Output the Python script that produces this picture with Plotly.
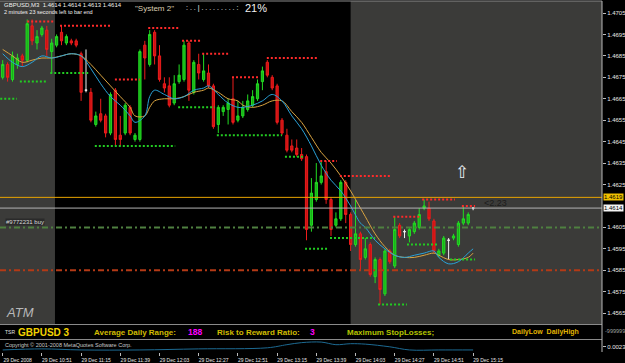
import plotly.graph_objects as go

# ---------------- data ----------------
opens = [
    1.4675, 1.4681, 1.4674, 1.4681, 1.4685, 1.4683, 1.4699, 1.4691, 1.4695, 1.4697,
    1.4687, 1.4690, 1.4696, 1.4691, 1.4692, 1.4692, 1.4686, 1.4669, 1.4668, 1.4653,
    1.4658, 1.4657, 1.4649, 1.4669, 1.4648, 1.4649, 1.4661, 1.4646, 1.4646, 1.4690,
    1.4681, 1.4696, 1.4685, 1.4672, 1.4671, 1.4663, 1.4673, 1.4674, 1.4691, 1.4668,
    1.4681, 1.4674, 1.4677, 1.4671, 1.4653, 1.4659, 1.4660, 1.4665, 1.4655, 1.4657,
    1.4660, 1.4662, 1.4665, 1.4673, 1.4682, 1.4675, 1.4671, 1.4655, 1.4648, 1.4643,
    1.4642, 1.4639, 1.4638, 1.4606, 1.4618, 1.4626, 1.4631, 1.4618, 1.4606, 1.4609,
    1.4626, 1.4611, 1.4597, 1.4602, 1.4591, 1.4597, 1.4582, 1.4590, 1.4574, 1.4594,
    1.4587, 1.4606, 1.4603, 1.4601, 1.4603, 1.4605, 1.4614, 1.4614, 1.4608, 1.4592,
    1.4593, 1.4599, 1.4600, 1.4597, 1.4607, 1.4607, 1.4614]
highs = [
    1.4683, 1.4682, 1.4687, 1.4686, 1.4686, 1.4702, 1.4702, 1.4697, 1.4699, 1.4699,
    1.4693, 1.4695, 1.4699, 1.4695, 1.4693, 1.4693, 1.4687, 1.4688, 1.4670, 1.4659,
    1.4665, 1.4658, 1.4668, 1.4670, 1.4657, 1.4663, 1.4662, 1.4649, 1.4688, 1.4692,
    1.4697, 1.4697, 1.4690, 1.4675, 1.4675, 1.4676, 1.4681, 1.4692, 1.4692, 1.4683,
    1.4686, 1.4686, 1.4681, 1.4672, 1.4662, 1.4662, 1.4665, 1.4675, 1.4664, 1.4664,
    1.4667, 1.4669, 1.4674, 1.4680, 1.4683, 1.4676, 1.4672, 1.4656, 1.4651, 1.4646,
    1.4646, 1.4642, 1.4639, 1.4628, 1.4635, 1.4636, 1.4636, 1.4619, 1.4612, 1.4627,
    1.4627, 1.4612, 1.4618, 1.4603, 1.4600, 1.4598, 1.4591, 1.4591, 1.4595, 1.4595,
    1.4610, 1.4607, 1.4604, 1.4605, 1.4608, 1.4614, 1.4618, 1.4617, 1.4609, 1.4595,
    1.4601, 1.4600, 1.4602, 1.4608, 1.4615, 1.4612, 1.4614]
lows = [
    1.4674, 1.4673, 1.4673, 1.4679, 1.4680, 1.4682, 1.4690, 1.4688, 1.4694, 1.4685,
    1.4677, 1.4689, 1.4690, 1.4690, 1.4690, 1.4689, 1.4664, 1.4668, 1.4654, 1.4652,
    1.4654, 1.4647, 1.4648, 1.4643, 1.4643, 1.4648, 1.4648, 1.4645, 1.4645, 1.4674,
    1.4680, 1.4681, 1.4673, 1.4668, 1.4661, 1.4662, 1.4672, 1.4673, 1.4664, 1.4667,
    1.4674, 1.4673, 1.4670, 1.4651, 1.4649, 1.4657, 1.4653, 1.4653, 1.4654, 1.4656,
    1.4659, 1.4661, 1.4664, 1.4669, 1.4675, 1.4669, 1.4653, 1.4648, 1.4640, 1.4640,
    1.4638, 1.4636, 1.4599, 1.4603, 1.4617, 1.4625, 1.4616, 1.4601, 1.4605, 1.4608,
    1.4607, 1.4594, 1.4596, 1.4585, 1.4590, 1.4582, 1.4579, 1.4569, 1.4573, 1.4588,
    1.4586, 1.4600, 1.4600, 1.4598, 1.4602, 1.4604, 1.4613, 1.4608, 1.4593, 1.4591,
    1.4592, 1.4590, 1.4599, 1.4596, 1.4606, 1.4606, 1.4613]
closes = [
    1.4681, 1.4675, 1.4685, 1.4684, 1.4683, 1.4700, 1.4692, 1.4694, 1.4698, 1.4688,
    1.4691, 1.4694, 1.4692, 1.4694, 1.4691, 1.4690, 1.4668, 1.4669, 1.4655, 1.4657,
    1.4655, 1.4649, 1.4667, 1.4646, 1.4646, 1.4662, 1.4649, 1.4648, 1.4687, 1.4684,
    1.4695, 1.4685, 1.4674, 1.4670, 1.4662, 1.4672, 1.4676, 1.4690, 1.4669, 1.4682,
    1.4677, 1.4678, 1.4671, 1.4652, 1.4661, 1.4661, 1.4663, 1.4654, 1.4657, 1.4661,
    1.4664, 1.4666, 1.4672, 1.4678, 1.4676, 1.4670, 1.4654, 1.4649, 1.4641, 1.4641,
    1.4639, 1.4637, 1.4604, 1.4621, 1.4626, 1.4629, 1.4618, 1.4604, 1.4609, 1.4626,
    1.4611, 1.4597, 1.4602, 1.4590, 1.4595, 1.4583, 1.4590, 1.4576, 1.4594, 1.4589,
    1.4604, 1.4601, 1.4603, 1.4604, 1.4607, 1.4611, 1.4615, 1.4609, 1.4594, 1.4594,
    1.4600, 1.4599, 1.4601, 1.4607, 1.4609, 1.4611, 1.4614]

# time axis labels (every 8 bars of 3 minutes)
tick_bars = [0, 8, 16, 24, 32, 40, 48, 56, 64, 72, 80, 88, 96]
tick_labels = ["29 Dec 2008", "29 Dec 10:51", "29 Dec 11:15", "29 Dec 11:39",
               "29 Dec 12:03", "29 Dec 12:27", "29 Dec 12:51", "29 Dec 13:15",
               "29 Dec 13:39", "29 Dec 14:03", "29 Dec 14:27", "29 Dec 14:51",
               "29 Dec 15:15"]

# price scale labels (1.4615 is hidden behind the price tags)
price_ticks = [1.4565, 1.4575, 1.4585, 1.4595, 1.4605, 1.4625, 1.4635,
               1.4645, 1.4655, 1.4665, 1.4675, 1.4685, 1.4695, 1.4705]

# moving averages (read at sample bars)
ma_bars = [0, 2, 4, 6, 8, 10, 12, 14, 16, 18, 20, 22, 24, 26, 27, 29, 30, 31, 33, 35,
           37, 39, 41, 42, 44, 46, 48, 49, 51, 53, 55, 57, 59, 61, 63, 65, 67, 69, 71, 73,
           74, 76, 78, 80, 82, 84, 86, 88, 89, 91, 93, 95, 96]
ma_slow = [1.4688, 1.4685, 1.4682, 1.4683, 1.4684, 1.4684, 1.4685, 1.4686, 1.4685, 1.4681,
           1.4676, 1.4671, 1.4666, 1.4661, 1.4657, 1.4657, 1.4661, 1.4664, 1.4665, 1.4665,
           1.4666, 1.4668, 1.4669, 1.4670, 1.4668, 1.4665, 1.4664, 1.4662, 1.4661, 1.4662,
           1.4664, 1.4664, 1.4659, 1.4654, 1.4647, 1.4640, 1.4635, 1.4629, 1.4622, 1.4614,
           1.4610, 1.4602, 1.4596, 1.4592, 1.4591, 1.4591, 1.4592, 1.4593, 1.4592, 1.4590,
           1.4590, 1.4591, 1.4593]
ma_fast = [1.4686, 1.4682, 1.4680, 1.4682, 1.4685, 1.4684, 1.4685, 1.4686, 1.4685, 1.4679,
           1.4672, 1.4666, 1.4662, 1.4657, 1.4654, 1.4657, 1.4666, 1.4669, 1.4667, 1.4665,
           1.4666, 1.4669, 1.4670, 1.4671, 1.4667, 1.4663, 1.4661, 1.4661, 1.4662, 1.4664,
           1.4667, 1.4664, 1.4657, 1.4651, 1.4643, 1.4634, 1.4627, 1.4622, 1.4615, 1.4607,
           1.4605, 1.4599, 1.4595, 1.4592, 1.4591, 1.4592, 1.4593, 1.4594, 1.4591, 1.4588,
           1.4589, 1.4593, 1.4595]

# dotted support / resistance segments (start bar, end bar, price)
res_start = [5.0, 11.7, 22.9, 29.7, 36.6, 40.7, 46.8, 53.9, 64.8, 68.8, 79.7, 85.6, 93.7]
res_end = [10.7, 22.3, 28.0, 36.2, 40.3, 46.0, 52.5, 64.4, 68.2, 79.4, 85.2, 92.3, 96.4]
res_price = [1.4701, 1.4699, 1.4674, 1.4698, 1.4692, 1.4686, 1.4675, 1.4684, 1.4636,
             1.4629, 1.4610, 1.4618, 1.4615]
sup_start = [-0.5, 3.5, 9.7, 18.8, 35.8, 43.7, 57.6, 61.7, 66.8, 76.6, 82.5, 91.3]
sup_end = [2.9, 9.0, 17.8, 35.2, 43.3, 57.0, 61.3, 66.2, 76.0, 82.5, 88.8, 96.4]
sup_price = [1.4665, 1.4673, 1.4677, 1.4643, 1.4661, 1.4648, 1.4638, 1.4595, 1.4600,
             1.4569, 1.4597, 1.4590]

# horizontal levels
ask_level = 1.4619
bid_level = 1.4614
order_level = 1.4605
stop_level = 1.4585

# lower indicator panel
ind_bars = [0, 8, 16, 28, 40, 54, 58, 61, 65, 68, 71, 74, 79, 83, 89, 96]
ind_vals = [0.00193, 0.00205, 0.00193, 0.00193, 0.00205, 0.00217, 0.00252, 0.00275,
            0.00281, 0.00252, 0.00263, 0.00258, 0.00228, 0.00193, 0.00193, 0.00193]

# ---------------- figure ----------------
n = len(opens)
bars = list(range(n))
XLO, XHI = -0.55, 122.3
FONT = "Liberation Sans"

normal = [i for i in bars if opens[i] != closes[i]]
doji = [i for i in bars if opens[i] == closes[i]]

fig = go.Figure()

fig.add_trace(go.Candlestick(
    x=normal, open=[opens[i] for i in normal], high=[highs[i] for i in normal],
    low=[lows[i] for i in normal], close=[closes[i] for i in normal],
    increasing=dict(line=dict(color="#22dd22", width=1), fillcolor="#18b018"),
    decreasing=dict(line=dict(color="#ee1c1c", width=1), fillcolor="#c81212"),
    hoverinfo="skip", xaxis="x", yaxis="y"))
fig.add_trace(go.Candlestick(
    x=doji, open=[opens[i] for i in doji], high=[highs[i] for i in doji],
    low=[lows[i] for i in doji], close=[closes[i] for i in doji],
    increasing=dict(line=dict(color="#f0f0f0", width=1), fillcolor="#f0f0f0"),
    decreasing=dict(line=dict(color="#f0f0f0", width=1), fillcolor="#f0f0f0"),
    hoverinfo="skip", xaxis="x", yaxis="y"))

fig.add_trace(go.Scatter(x=ma_bars, y=ma_slow, mode="lines", line=dict(color="#d9a441", width=1, shape="spline"),
                         hoverinfo="skip", xaxis="x", yaxis="y"))
fig.add_trace(go.Scatter(x=ma_bars, y=ma_fast, mode="lines", line=dict(color="#2aa2d8", width=1, shape="spline"),
                         hoverinfo="skip", xaxis="x", yaxis="y"))


def seg_xy(starts, ends, prices):
    xs, ys = [], []
    for s, e, p in zip(starts, ends, prices):
        xs += [s, e, None]
        ys += [p, p, None]
    return xs, ys


rx, ry = seg_xy(res_start, res_end, res_price)
sx, sy = seg_xy(sup_start, sup_end, sup_price)
fig.add_trace(go.Scatter(x=rx, y=ry, mode="lines", line=dict(color="#ff2a2a", width=2, dash="2px,2px"),
                         hoverinfo="skip", xaxis="x", yaxis="y"))
fig.add_trace(go.Scatter(x=sx, y=sy, mode="lines", line=dict(color="#22cc22", width=2, dash="2px,2px"),
                         hoverinfo="skip", xaxis="x", yaxis="y"))

fig.add_trace(go.Scatter(x=ind_bars, y=ind_vals, mode="lines", line=dict(color="#1d6a92", width=1, shape="spline"),
                         hoverinfo="skip", xaxis="x2", yaxis="y2"))

# geometry helpers (pixel -> paper)
PW, TOP, BOT = 602.0, 1.0, 352.0


def px(x):
    return x / PW


def py(y):
    return (BOT - y) / (BOT - TOP)


shapes = []
# session shading
for x0, x1 in [(XLO, 10.67), (71.0, XHI)]:
    shapes.append(dict(type="rect", xref="x", yref="y domain", x0=x0, x1=x1, y0=0, y1=1,
                       fillcolor="#3b3b39", line=dict(width=0), layer="below"))
# horizontal levels
shapes.append(dict(type="line", xref="paper", yref="y", x0=0, x1=1, y0=order_level, y1=order_level,
                   line=dict(color="#4f8040", width=2, dash="6px,3px,2px,3px")))
shapes.append(dict(type="line", xref="paper", yref="y", x0=0, x1=1, y0=stop_level, y1=stop_level,
                   line=dict(color="#b43a16", width=2, dash="6px,3px,2px,3px")))
shapes.append(dict(type="line", xref="paper", yref="y", x0=0, x1=1, y0=ask_level, y1=ask_level,
                   line=dict(color="#e8a400", width=1)))
shapes.append(dict(type="line", xref="paper", yref="y", x0=0, x1=1, y0=bid_level, y1=bid_level,
                   line=dict(color="#b4b4b4", width=1)))
# frame lines
for yy in [1.0, 324.5, 339.5]:
    shapes.append(dict(type="line", xref="paper", yref="paper", x0=0, x1=1, y0=py(yy), y1=py(yy),
                       line=dict(color="#8a8a8a", width=1)))
shapes.append(dict(type="line", xref="paper", yref="paper", x0=1, x1=1, y0=0, y1=1,
                   line=dict(color="#b8b8b8", width=1)))

ann = []


def text(x, y, s, size, color, bold=False, italic=False, bg=None, anchor="left", family=FONT):
    if bold:
        s = "<b>" + s + "</b>"
    if italic:
        s = "<i>" + s + "</i>"
    d = dict(xref="paper", yref="paper", x=px(x), y=py(y), text=s, showarrow=False,
             xanchor=anchor, yanchor="middle", font=dict(size=size, color=color, family=family),
             borderpad=0)
    if bg:
        d["bgcolor"] = bg
    ann.append(d)


# header
text(3, 5, "GBPUSD,M3  1.4614 1.4614 1.4613 1.4614", 6, "#f0f0f0")
text(3, 12.5, "2 minutes 23 seconds left to bar end", 5.5, "#f0f0f0")
text(134, 8, "\"System 2\"", 8, "#d8ccb0")
text(185, 8, ": . . | . . . . . . . . . :", 7, "#f0f0f0")
text(244, 8, "21%", 11, "#f0f0f0")

# chart labels
text(5, 222, "#9772231 buy", 6, "#d8d8d8", bg="#2a2a2a")
text(483, 203, "<2.23", 9, "#1c1c1c")
text(462, 172, "⇧", 17, "#e8eef4", anchor="center", family="DejaVu Sans")
text(5, 312, "ATM", 13, "#b8b8b8", italic=True)

# price tags on the scale
text(603, 197, "1.4619", 6, "#000000", bg="#f0c000")
text(603, 208, "1.4614", 6, "#000000", bg="#f4f4f4")

# TSR panel
text(4, 332, "TSR", 5, "#e0e0e0")
text(17, 332, "GBPUSD 3", 10, "#f2d200", bold=True)
text(93, 332, "Average Daily Range:", 8, "#d0bc00", bold=True)
text(187, 332, "188", 8.5, "#ff00ff", bold=True)
text(216, 332, "Risk to Reward Ratio:", 8, "#d0bc00", bold=True)
text(309, 332, "3", 8.5, "#ff00ff", bold=True)
text(346, 332, "Maximum StopLosses;", 8, "#b4c400", bold=True)
text(511, 332, "DailyLow  DailyHigh", 7, "#e0b400", bold=True)
text(604, 331, "-999999", 5.5, "#a0a0a0")

# indicator panel
text(4, 345, "Copyright © 2001-2008 MetaQuotes Software Corp.", 5.5, "#c8c8c8")

fig.update_layout(
    width=625, height=363,
    margin=dict(l=0, r=23, t=1, b=11),
    paper_bgcolor="#000000", plot_bgcolor="#000000",
    showlegend=False, boxgap=0.35,
    shapes=shapes, annotations=ann,
    xaxis=dict(domain=[0, 1], range=[XLO, XHI], visible=False, anchor="y",
               rangeslider=dict(visible=False), fixedrange=True),
    yaxis=dict(domain=[py(324.5), 1], range=[1.45597, 1.47106], side="right", anchor="x",
               tickvals=price_ticks, ticktext=[f"{v:.4f}" for v in price_ticks],
               showgrid=False, zeroline=False, ticks="outside", ticklen=3, tickcolor="#bbbbbb",
               tickfont=dict(size=6, color="#e8e8e8", family=FONT), showline=False),
    xaxis2=dict(domain=[0, 1], range=[XLO, XHI], anchor="y2",
                tickvals=tick_bars, ticktext=tick_labels, ticks="outside", ticklen=3,
                tickcolor="#bbbbbb", ticklabelshift=15, showgrid=False, zeroline=False,
                tickfont=dict(size=5, color="#e8e8e8", family=FONT), showline=False),
    yaxis2=dict(domain=[0, py(339.5)], range=[0.0017, 0.0031], side="right", anchor="x2",
                tickvals=[0.0023], ticktext=["0.0023"], ticks="outside", ticklen=3,
                tickcolor="#bbbbbb", showgrid=False, zeroline=False,
                tickfont=dict(size=6, color="#e8e8e8", family=FONT)),
)

fig.write_html("out.html")
